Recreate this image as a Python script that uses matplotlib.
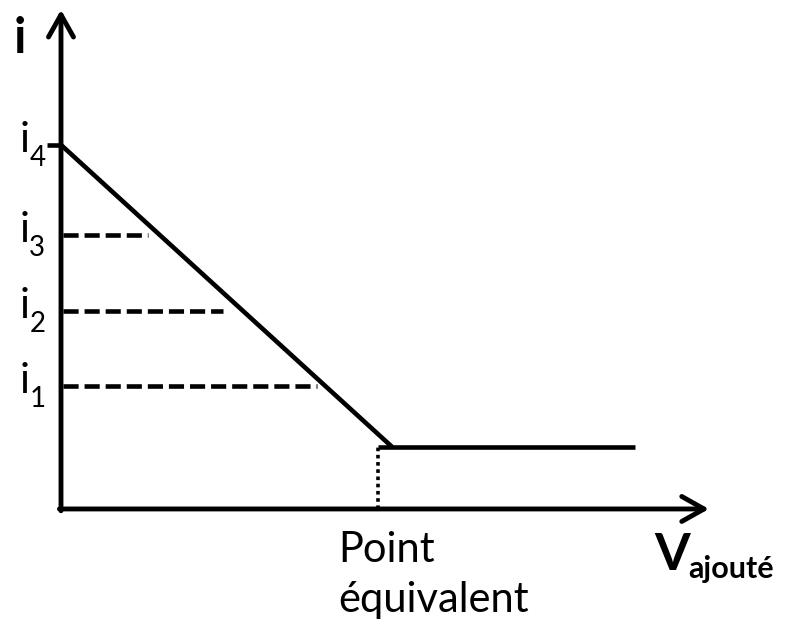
import matplotlib.pyplot as plt

plt.rcParams['font.family'] = ['Lato', 'DejaVu Sans']

v_eq = 10.0                 # volume au point équivalent
v_diag_end = 10.45          # fin du segment descendant
v_end = 18.1                # fin du palier
i_plateau = 1.70            # courant après l'équivalence
i_levels = [3.38, 5.44, 7.53, 10.0]   # i1, i2, i3, i4
i_names = ['1', '2', '3', '4']
dash_ends = [8.08, 5.11, 2.74]        # fin des pointillés pour i1, i2, i3

x_axis_end = 20.44
y_axis_end = 13.71

fig = plt.figure(figsize=(7.92, 6.29), dpi=100)
ax = fig.add_axes([0, 0, 1, 1])
ax.set_xlim(-1.924, 23.06)
ax.set_ylim(-3.297, 13.98)
ax.axis('off')

# axes avec flèches
arrow = dict(arrowstyle='->,head_length=0.8,head_width=0.45', lw=3.5,
             color='black', mutation_scale=20, shrinkA=0, shrinkB=0)
ax.annotate('', xy=(x_axis_end, 0), xytext=(-0.05, 0), arrowprops=arrow)
ax.annotate('', xy=(0, y_axis_end), xytext=(0, -0.05), arrowprops=arrow)

# courbe
ax.plot([0, v_diag_end], [i_levels[3], i_plateau], color='black', lw=3.3,
        solid_capstyle='butt')
ax.plot([v_eq, v_end], [i_plateau, i_plateau], color='black', lw=3.3,
        solid_capstyle='butt')
ax.plot([v_eq, v_eq], [0, i_plateau], color='black', lw=2.6,
        linestyle=(0, (1, 1)), dash_capstyle='butt')

# petit trait pour i4
ax.plot([-0.44, 0], [i_levels[3], i_levels[3]], color='black', lw=3.3,
        solid_capstyle='butt')

# pointillés i1..i3
for lvl, xe in zip(i_levels[:3], dash_ends):
    ax.plot([0.05, xe], [lvl, lvl], color='black', lw=3.3,
            linestyle=(0, (3.3, 1.3)), dash_capstyle='butt')

# étiquettes i1..i4
for lvl, n in zip(i_levels, i_names):
    ax.text(-1.0, lvl - 0.20, 'i', fontsize=30, ha='right', va='baseline')
    ax.text(-1.0, lvl - 0.58, n, fontsize=20, ha='left', va='baseline')

# titres des axes
ax.text(-1.29, 12.53, 'i', fontsize=35, fontweight='bold', ha='center',
        va='baseline')
ax.text(18.70, -1.676, 'V', fontsize=37, fontweight='bold', ha='left',
        va='baseline')
ax.text(19.80, -1.896, 'ajouté', fontsize=22, fontweight='bold', ha='left',
        va='baseline')

ax.text(8.74, -1.456, 'Point', fontsize=30, ha='left', va='baseline')
ax.text(8.74, -2.83, 'équivalent', fontsize=30, ha='left', va='baseline')

fig.savefig('out.png', dpi=100)
